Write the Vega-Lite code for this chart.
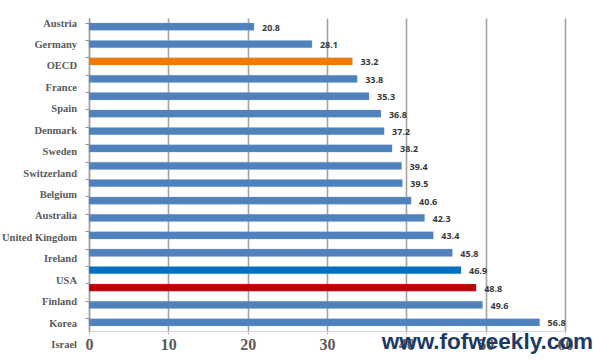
{
  "$schema": "https://vega.github.io/schema/vega-lite/v6.json",
  "width": 476,
  "height": 313,
  "autosize": {"type": "none"},
  "padding": {"left": 89, "top": 18, "right": 28, "bottom": 29},
  "background": "white",
  "config": {"view": {"stroke": null}},
  "title": {
    "text": "www.fofweekly.com",
    "orient": "bottom",
    "anchor": "end",
    "frame": "group",
    "offset": -21,
    "dx": 28,
    "font": "Liberation Sans",
    "fontSize": 22.5,
    "fontWeight": "bold",
    "color": "#1B3A66"
  },
  "datasets": {
    "bars": [
      {"bar": "B01", "value": 20.8, "group": "base"},
      {"bar": "B02", "value": 28.1, "group": "base"},
      {"bar": "B03", "value": 33.2, "group": "oecd"},
      {"bar": "B04", "value": 33.8, "group": "base"},
      {"bar": "B05", "value": 35.3, "group": "base"},
      {"bar": "B06", "value": 36.8, "group": "base"},
      {"bar": "B07", "value": 37.2, "group": "base"},
      {"bar": "B08", "value": 38.2, "group": "base"},
      {"bar": "B09", "value": 39.4, "group": "base"},
      {"bar": "B10", "value": 39.5, "group": "base"},
      {"bar": "B11", "value": 40.6, "group": "base"},
      {"bar": "B12", "value": 42.3, "group": "base"},
      {"bar": "B13", "value": 43.4, "group": "base"},
      {"bar": "B14", "value": 45.8, "group": "base"},
      {"bar": "B15", "value": 46.9, "group": "usa"},
      {"bar": "B16", "value": 48.8, "group": "red"},
      {"bar": "B17", "value": 49.6, "group": "base"},
      {"bar": "B18", "value": 56.8, "group": "base"}
    ],
    "labels": [
      {"country": "Austria"},
      {"country": "Germany"},
      {"country": "OECD"},
      {"country": "France"},
      {"country": "Spain"},
      {"country": "Denmark"},
      {"country": "Sweden"},
      {"country": "Switzerland"},
      {"country": "Belgium"},
      {"country": "Australia"},
      {"country": "United Kingdom"},
      {"country": "Ireland"},
      {"country": "USA"},
      {"country": "Finland"},
      {"country": "Korea"},
      {"country": "Israel"}
    ]
  },
  "layer": [
    {
      "data": {"name": "bars"},
      "layer": [
        {
          "mark": {"type": "bar", "stroke": "#7FA3D3", "strokeWidth": 0.5, "strokeOpacity": 0.6},
          "encoding": {
            "y": {
              "field": "bar", "type": "nominal", "sort": null,
              "scale": {"paddingInner": 0.58, "paddingOuter": 0.29},
              "axis": {
                "title": null, "labels": false, "bandPosition": 0,
                "domainColor": "#9A9A9A", "domainWidth": 1.2,
                "tickColor": "#9A9A9A", "tickSize": 4, "tickWidth": 1.2
              }
            },
            "x": {
              "field": "value", "type": "quantitative",
              "scale": {"domain": [0, 60], "nice": false},
              "axis": {
                "title": null, "values": [0, 10, 20, 30, 40, 50, 60],
                "grid": true, "gridColor": "#A3A3A3", "gridWidth": 1.6,
                "domainColor": "#D5D5D5", "domainWidth": 1,
                "tickColor": "#BBBBBB", "tickSize": 3,
                "labelFont": "Liberation Serif", "labelFontSize": 16,
                "labelFontWeight": "bold", "labelColor": "#5F5A55",
                "labelPadding": 2, "labelFlush": false, "labelOverlap": false
              }
            },
            "color": {
              "field": "group", "type": "nominal", "legend": null,
              "scale": {
                "domain": ["base", "oecd", "usa", "red"],
                "range": ["#4F81BD", "#F27A00", "#0070C0", "#C00000"]
              }
            }
          }
        },
        {
          "mark": {"type": "text", "align": "left", "baseline": "middle", "dx": 8, "dy": 1, "font": "Open Sans", "fontSize": 9, "fontWeight": "bold", "color": "#3A3A3A"},
          "encoding": {
            "y": {"field": "bar", "type": "nominal", "sort": null},
            "x": {"field": "value", "type": "quantitative"},
            "text": {"field": "value", "type": "quantitative", "format": ".1f"}
          }
        }
      ]
    },
    {
      "data": {"name": "labels"},
      "mark": {"type": "text", "align": "right", "baseline": "middle", "dx": -12, "font": "Liberation Serif", "fontSize": 10.5, "fontWeight": "bold", "color": "#5A5A5A"},
      "encoding": {
        "y": {
          "field": "country", "type": "nominal", "sort": null,
          "scale": {"type": "point", "range": [5.5, 327], "padding": 0},
          "axis": null
        },
        "x": {"datum": 0, "type": "quantitative"},
        "text": {"field": "country"}
      }
    }
  ],
  "resolve": {"scale": {"y": "independent"}, "axis": {"y": "independent"}}
}
